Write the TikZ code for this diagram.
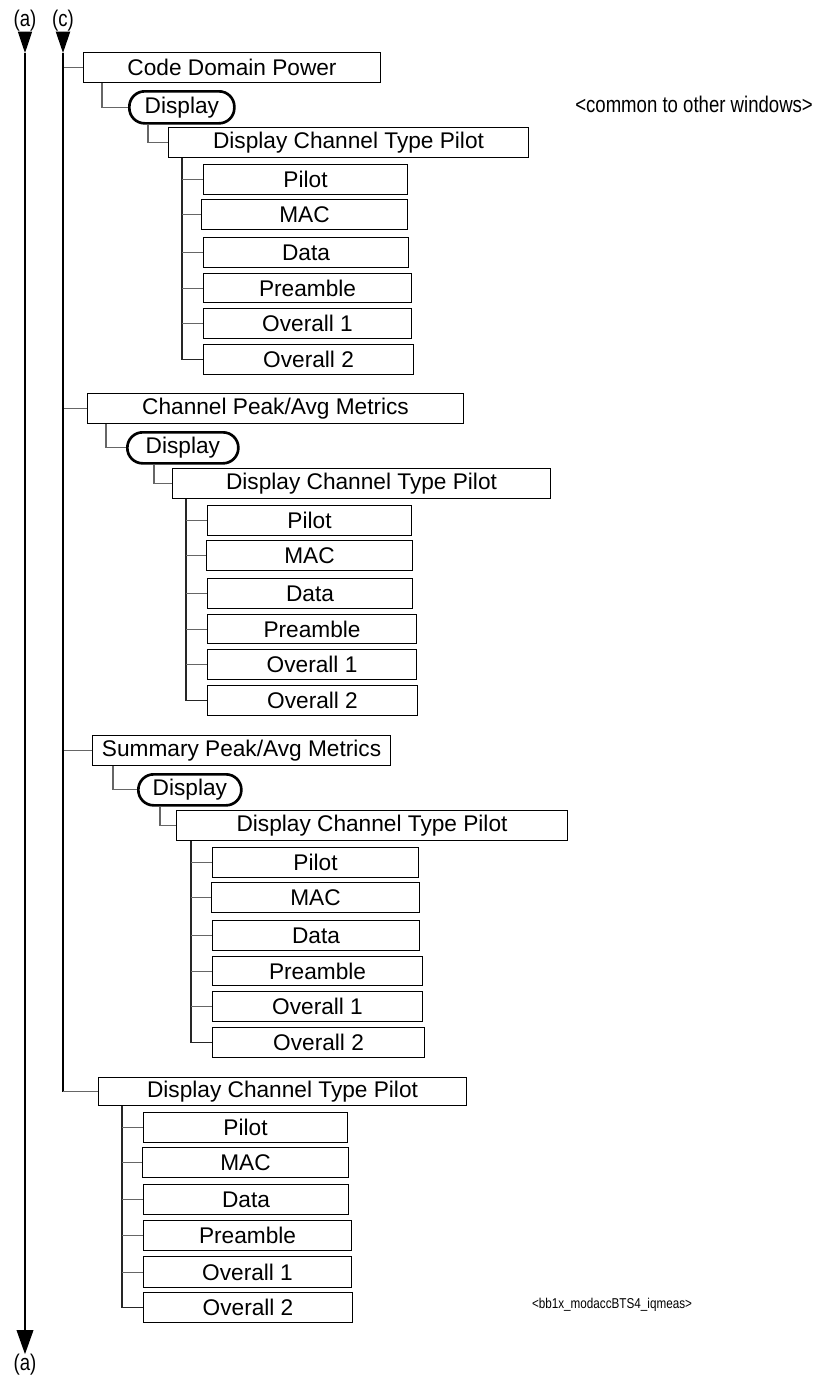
\documentclass[tikz,border=0pt]{standalone}
\usepackage{fontspec}
\setmainfont{Liberation Sans}
\newfontfamily\narrowfont[FakeStretch=0.82]{Liberation Sans}
\usetikzlibrary{arrows.meta}
\newcommand\mainsz{\fontsize{17pt}{20pt}\selectfont}
\newcommand\narrowsz{\narrowfont\fontsize{17pt}{20pt}\selectfont}
\newcommand\tinysz{\narrowfont\fontsize{10.7pt}{12pt}\selectfont}
% optional style, name, x1, y1, x2, y2, text
\newcommand\bx[7][box]{\node[#1, minimum width={(#5-#3)*0.75pt}, minimum height={(#6-#4)*0.75pt}] (#2) at (#3,#4) {#7};}
\begin{document}
\begin{tikzpicture}[x=0.75pt,y=-0.75pt,
  box/.style={draw=black, line width=0.8pt, inner sep=0pt, anchor=north west, font=\mainsz},
  disp/.style={box, line width=2pt, rounded corners=11.5pt},
  conn/.style={draw=black!60, line width=0.8pt},
  vconn/.style={draw=black!85, line width=0.95pt},
  lbl/.style={inner sep=0pt, font=\narrowsz},
  aline/.style={draw=black, line width=1pt},
  cline/.style={draw=black, line width=1.5pt},
  toptip/.style={-{Triangle[length=16pt,width=10.5pt]}},
  bottip/.style={-{Triangle[length=18pt,width=12.5pt]}}]
\fill[white] (0,0) rectangle (819,1375);
\useasboundingbox (0,0) rectangle (819,1375);

% side labels and arrows
\node[lbl] (a1) at (25,21) {(a)};
\node[lbl] (c1) at (63,21) {(c)};
\node[lbl] (a2) at (25,1365) {(a)};
\coordinate (atip) at (25,53);
\coordinate (ctip) at (63,53);
\draw[aline, toptip] (a1.south) -- (atip);
\draw[aline, bottip] (atip) -- (a2.north);
\draw[cline, toptip] (c1.south) -- (ctip);

\node[lbl, anchor=west] (cm) at (575,104) {<common to other windows>};
\node[inner sep=0pt, font=\tinysz] (bb) at (612,1305) {<bb1x\_modaccBTS4\_iqmeas>};

% ---------- group 1
\bx{g1}{83}{52}{380}{82}{Code Domain Power}
\bx[disp]{g1d}{128}{90}{233}{122}{Display}
\bx{g1t}{168}{127}{528}{157}{Display Channel Type Pilot}
\bx{g1a}{203}{164}{407}{194}{Pilot}
\bx{g1b}{201}{199}{407}{229}{MAC}
\bx{g1c}{203}{237}{408}{267}{Data}
\bx{g1e}{203}{273}{411}{302}{Preamble}
\bx{g1f}{203}{308}{411}{338}{Overall 1}
\bx{g1g}{203}{344}{413}{374}{Overall 2}
\draw[conn] (g1.west) -- (g1.west -| ctip);
\draw[conn] (g1.south west) ++(19,0) |- (g1d.west);
\draw[conn] (g1d.south west) ++(20,0) |- (g1t.west);
\path (g1t.south west) ++(14,0) coordinate (g1v);
\draw[vconn] (g1v) |- (g1g.west);
\foreach \c in {a,b,c,e,f} \draw[conn] (g1\c.west) -- (g1\c.west -| g1v);

% ---------- group 2
\bx{g2}{87}{393}{463}{423}{Channel Peak/Avg Metrics}
\bx[disp]{g2d}{126}{431}{237}{462}{Display}
\bx{g2t}{172}{468}{550}{498}{Display Channel Type Pilot}
\bx{g2a}{207}{505}{411}{535}{Pilot}
\bx{g2b}{206}{540}{412}{570}{MAC}
\bx{g2c}{207}{578}{412}{608}{Data}
\bx{g2e}{207}{614}{416}{643}{Preamble}
\bx{g2f}{207}{649}{416}{679}{Overall 1}
\bx{g2g}{207}{685}{417}{715}{Overall 2}
\draw[conn] (g2.west) -- (g2.west -| ctip);
\draw[conn] (g2.south west) ++(19,0) |- (g2d.west);
\draw[conn] (g2d.south west) ++(28,0) |- (g2t.west);
\path (g2t.south west) ++(14,0) coordinate (g2v);
\draw[vconn] (g2v) |- (g2g.west);
\foreach \c in {a,b,c,e,f} \draw[conn] (g2\c.west) -- (g2\c.west -| g2v);

% ---------- group 3
\bx{g3}{92}{735}{390}{765}{Summary Peak/Avg Metrics}
\bx[disp]{g3d}{137}{773}{240}{804}{Display}
\bx{g3t}{176}{810}{567}{840}{Display Channel Type Pilot}
\bx{g3a}{212}{847}{418}{877}{Pilot}
\bx{g3b}{211}{882}{419}{912}{MAC}
\bx{g3c}{212}{920}{419}{950}{Data}
\bx{g3e}{212}{956}{422}{985}{Preamble}
\bx{g3f}{212}{991}{422}{1021}{Overall 1}
\bx{g3g}{212}{1027}{424}{1057}{Overall 2}
\draw[conn] (g3.west) -- (g3.west -| ctip);
\draw[conn] (g3.south west) ++(21,0) |- (g3d.west);
\draw[conn] (g3d.south west) ++(23,0) |- (g3t.west);
\path (g3t.south west) ++(15,0) coordinate (g3v);
\draw[vconn] (g3v) |- (g3g.west);
\foreach \c in {a,b,c,e,f} \draw[conn] (g3\c.west) -- (g3\c.west -| g3v);

% ---------- group 4
\bx{g4}{98}{1077}{466}{1105}{Display Channel Type Pilot}
\bx{g4a}{143}{1112}{347}{1142}{Pilot}
\bx{g4b}{142}{1147}{348}{1177}{MAC}
\bx{g4c}{143}{1184}{348}{1214}{Data}
\bx{g4e}{143}{1220}{351}{1250}{Preamble}
\bx{g4f}{143}{1256}{351}{1287}{Overall 1}
\bx{g4g}{143}{1292}{352}{1322}{Overall 2}
\draw[cline] (ctip) -- (ctip |- g4.west);
\draw[conn] (g4.west) -- (g4.west -| ctip);
\path (g4.south west) ++(24,0) coordinate (g4v);
\draw[vconn] (g4v) |- (g4g.west);
\foreach \c in {a,b,c,e,f} \draw[conn] (g4\c.west) -- (g4\c.west -| g4v);
\end{tikzpicture}
\end{document}
